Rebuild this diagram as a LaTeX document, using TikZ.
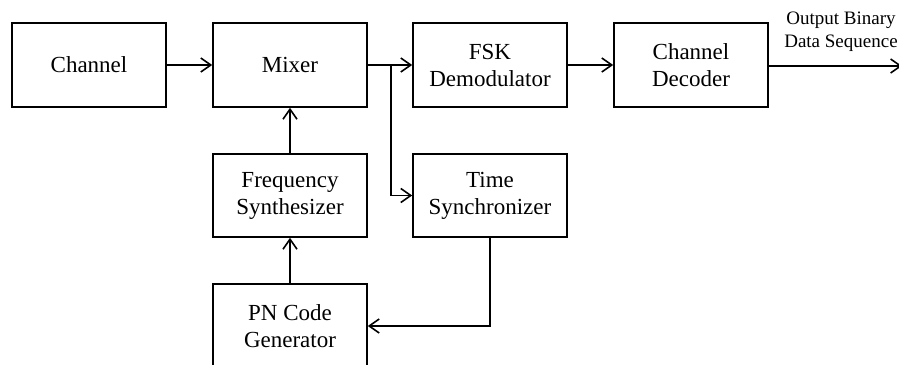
\documentclass[tikz,border=0pt]{standalone}
\usepackage{fontspec}
\setmainfont{Liberation Serif}
\usetikzlibrary{arrows.meta}
\begin{document}
\begin{tikzpicture}[x=1pt,y=-1pt,
  blk/.style={draw,line width=1.6pt,minimum width=154pt,align=center,
    font=\fontsize{23}{27}\selectfont,inner sep=0pt},
  tall/.style={blk,minimum height=84pt},
  mid/.style={blk,minimum height=83pt},
  wire/.style={line width=1.6pt,-{Straight Barb[length=10pt,width=14pt,line width=1.6pt]}}]
\useasboundingbox (0,0) rectangle (899,364);
\clip (0,0) rectangle (899,364);
% top row
\node[tall] (ch)  at (89,65)  {Channel};
\node[tall] (mx)  at (290,65) {Mixer};
\node[tall] (fsk) at (490,65) {FSK\\Demodulator};
\node[tall] (dec) at (691,65) {Channel\\Decoder};
% middle row
\node[mid] (fs) at (290,195.5) {Frequency\\Synthesizer};
\node[mid] (ts) at (490,195.5) {Time\\Synchronizer};
% bottom
\node[tall] (pn) at (290,326) {PN Code\\Generator};
% output label
\node[align=center,font=\fontsize{19}{23}\selectfont,inner sep=0pt] (out) at (841,32) {Output Binary\\Data Sequence};
\coordinate (end) at (902,66);
\coordinate (br) at (391,65);
% connectors
\draw[wire] (ch.east) -- (mx.west);
\draw[wire] (mx.east) -- (fsk.west);
\draw[wire] (br) |- (ts.west);
\draw[wire] (fsk.east) -- (dec.west);
\draw[wire] (dec.east |- end) -- (end);
\draw[wire] (fs.north) -- (mx.south);
\draw[wire] (pn.north) -- (fs.south);
\draw[wire] (ts.south) |- (pn.east);
\end{tikzpicture}
\end{document}
